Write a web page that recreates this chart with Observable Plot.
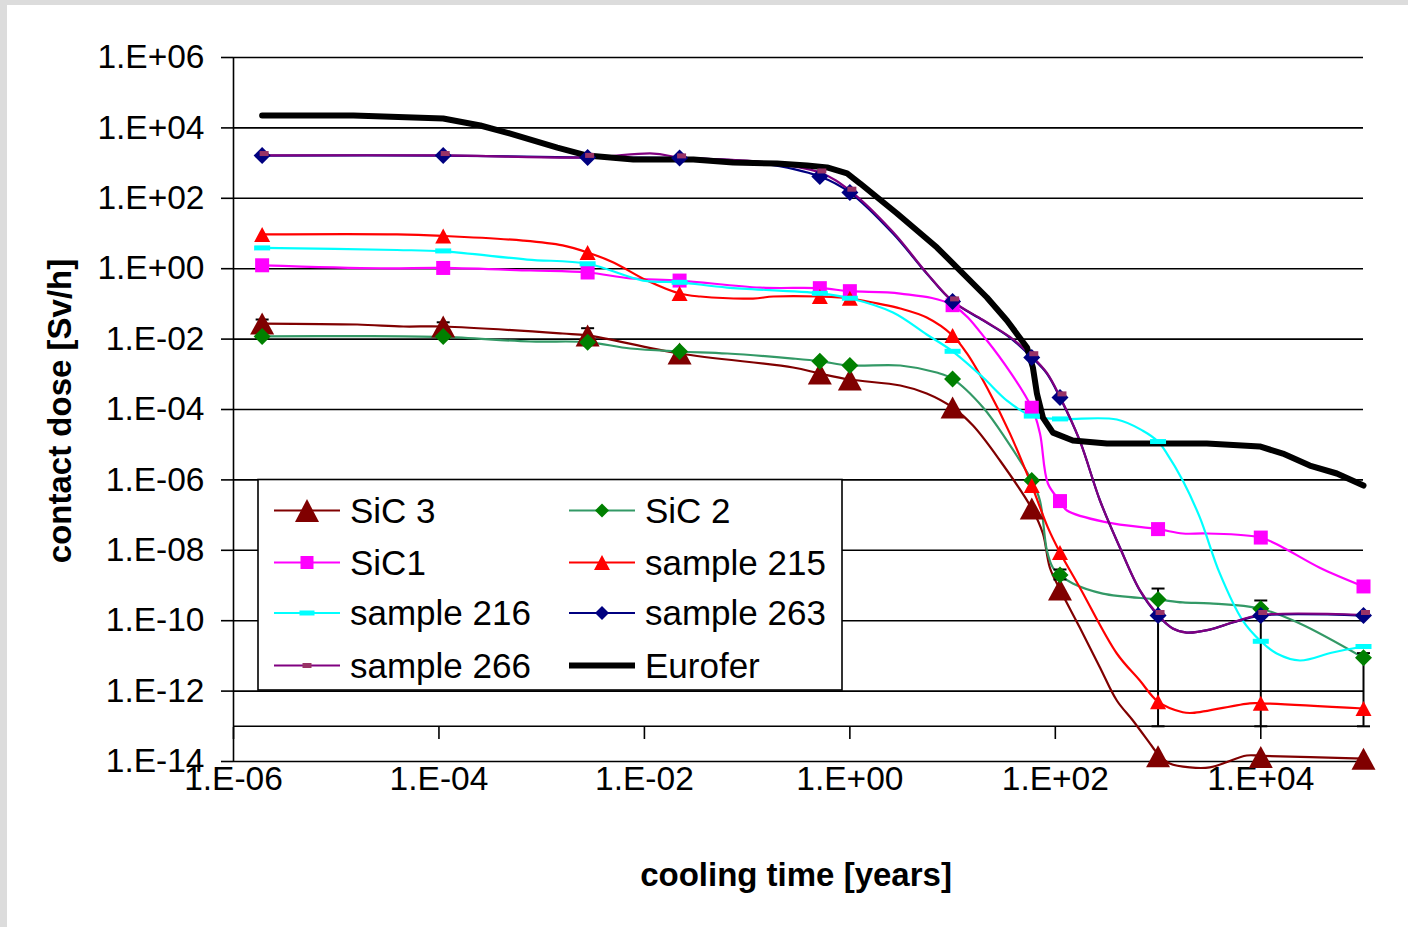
<!DOCTYPE html>
<html><head><meta charset="utf-8">
<script src="https://cdn.jsdelivr.net/npm/d3@7"></script>
<script src="https://cdn.jsdelivr.net/npm/@observablehq/plot@0.6"></script>
<style>
html,body{margin:0;padding:0;background:#dcdcdc;}
#wrap{position:relative;width:1408px;height:927px;overflow:hidden;}
#page{position:absolute;left:7px;top:5px;width:1401px;height:922px;background:#fff;}
#chart,#overlay{position:absolute;left:0;top:0;}
</style></head><body>
<div id="wrap"><div id="page"></div><div id="chart"></div><div id="overlay"></div></div>
<script>
// ---------- axis ticks ----------
const xTicks = [1e-6, 1e-4, 1e-2, 1e0, 1e2, 1e4];
const xTickLabels = ["1.E-06","1.E-04","1.E-02","1.E+00","1.E+02","1.E+04"];
const yTicks = [1e6,1e4,1e2,1e0,1e-2,1e-4,1e-6,1e-8,1e-10,1e-12,1e-14];
const yTickLabels = ["1.E+06","1.E+04","1.E+02","1.E+00","1.E-02","1.E-04","1.E-06","1.E-08","1.E-10","1.E-12","1.E-14"];
const xAxisCross = 1e-13;
const xTitle = "cooling time [years]";
const yTitle = "contact dose [Sv/h]";

// ---------- series (cooling time [y], dose [Sv/h]) ----------
const sic3Line = [[1.9e-6,0.0277],[1.6e-5,0.026],[4.5e-5,0.0228],[1.1e-4,0.0228],[1.6e-3,0.0144],[2.8e-3,0.0127],[0.022,3.9e-3],[0.28,1.56e-3],[0.51,1.05e-3],[1.0,7.1e-4],[3.1,4.8e-4],[5.6,2.85e-4],[10,1.14e-4],[15.8,3.5e-5],[28.9,3.56e-6],[59,1.54e-7],[75.7,3.0e-8],[88.5,3.2e-9],[111,7.7e-10],[173,6.4e-11],[272,4.7e-12],[397,5.4e-13],[569,1.46e-13],[890,2.5e-14],[1000,1.6e-14],[1300,8.8e-15],[2040,6.8e-15],[3190,6.8e-15],[7310,1.48e-14],[1e4,1.45e-14],[1e5,1.2e-14]];
const sic3Pts = [[1.9e-6,0.0277],[1.1e-4,0.0228],[2.8e-3,0.0127],[0.022,3.9e-3],[0.51,1.05e-3],[1.0,7.1e-4],[10,1.14e-4],[59,1.54e-7],[111,7.7e-10],[1000,1.4e-14],[1e4,1.35e-14],[1e5,1.2e-14]];

const sic2Line = [[1.9e-6,0.0119],[1.6e-5,0.0122],[1.1e-4,0.0115],[7.7e-4,8.55e-3],[2.8e-3,8.2e-3],[7.3e-3,5.4e-3],[0.022,4.45e-3],[0.064,3.9e-3],[0.28,2.8e-3],[0.51,2.36e-3],[1.0,1.78e-3],[3.1,1.78e-3],[7.0,1.12e-3],[10,7.4e-4],[19.8,1.14e-4],[33.8,1.3e-5],[59,9.6e-7],[70.8,2.6e-7],[82.8,9.9e-9],[94.8,3.2e-9],[111,2.0e-9],[148,1.14e-9],[290,5.9e-10],[1000,4.0e-10],[1740,3.3e-10],[3190,3.1e-10],[1e4,2.18e-10],[2.4e4,8.3e-11],[1e5,8.8e-12]];
const sic2Pts = [[1.9e-6,0.0119],[1.1e-4,0.0118],[2.8e-3,8.2e-3],[0.022,4.45e-3],[0.51,2.36e-3],[1.0,1.78e-3],[10,7.4e-4],[59,9.6e-7],[111,2.0e-9],[1000,4.0e-10],[1e4,2.18e-10],[1e5,8.8e-12]];

const sic1Line = [[1.9e-6,1.25],[2.7e-5,1.03],[1.1e-4,1.05],[7.7e-4,0.89],[2.8e-3,0.78],[7.3e-3,0.53],[0.022,0.46],[0.134,0.29],[0.51,0.28],[1.0,0.23],[3.1,0.197],[10,0.092],[21.6,9.1e-3],[59,1.12e-4],[70.8,2.1e-5],[84.7,7.9e-7],[111,2.5e-7],[130,1.35e-7],[318,6.2e-8],[1000,4.0e-8],[1740,3.0e-8],[2990,3.0e-8],[1e4,2.3e-8],[1.64e4,1.2e-8],[3.75e4,3.2e-9],[1e5,9.4e-10]];
const sic1Pts = [[1.9e-6,1.25],[1.1e-4,1.05],[2.8e-3,0.78],[0.022,0.46],[0.51,0.28],[1.0,0.23],[10,0.092],[59,1.12e-4],[111,2.5e-7],[1000,4.0e-8],[1e4,2.3e-8],[1e5,9.4e-10]];

const s215Line = [[1.9e-6,9.4],[3.9e-5,9.4],[1.1e-4,8.5],[6.6e-4,6.3],[1.6e-3,4.6],[2.8e-3,2.9],[5.0e-3,1.5],[0.0106,0.46],[0.022,0.197],[0.035,0.162],[0.114,0.142],[0.18,0.162],[0.51,0.162],[1.0,0.145],[1.84,0.103],[3.1,0.074],[5.6,0.041],[10,0.0127],[13.8,3.9e-3],[21.6,4.2e-4],[36.1,2.1e-5],[59,6.9e-7],[84.7,4.4e-8],[111,8.7e-9],[173,8.8e-10],[397,1.17e-11],[665,2.0e-12],[1000,5.0e-13],[1740,2.5e-13],[2180,2.4e-13],[7800,4.5e-13],[1e4,4.5e-13],[1e5,3.2e-13]];
const s215Pts = [[1.9e-6,9.4],[1.1e-4,8.5],[2.8e-3,2.9],[0.022,0.197],[0.51,0.162],[1.0,0.145],[10,0.0127],[59,6.9e-7],[111,8.7e-9],[1000,5.0e-13],[1e4,4.5e-13],[1e5,3.2e-13]];

const s216Line = [[1.9e-6,3.9],[3.9e-5,3.4],[1.1e-4,3.1],[7.2e-4,1.82],[2.8e-3,1.38],[9.7e-3,0.46],[0.022,0.41],[0.064,0.29],[0.51,0.20],[1.0,0.145],[2.63,0.057],[5.6,0.0135],[10,4.5e-3],[19.8,8.1e-4],[33.8,1.8e-4],[59,6.5e-5],[111,5.4e-5],[397,5.2e-5],[711,2.5e-5],[1000,1.23e-5],[1220,5.6e-6],[1740,9.6e-7],[2550,8.6e-8],[3990,2.2e-9],[6680,1.0e-10],[1e4,2.6e-11],[1.43e4,1.17e-11],[2.4e4,7.4e-12],[5.0e4,1.25e-11],[1e5,1.85e-11]];
const s216Pts = [[1.9e-6,3.9],[1.1e-4,3.2],[2.8e-3,1.38],[0.022,0.41],[0.51,0.20],[1.0,0.145],[10,4.5e-3],[59,6.5e-5],[111,5.4e-5],[1000,1.23e-5],[1e4,2.6e-11],[1e5,1.85e-11]];

const s263Line = [[1.9e-6,1640],[1.1e-4,1640],[2.8e-3,1440],[0.022,1400],[0.134,1000],[0.51,416],[1.0,146],[2.63,10],[5.6,0.73],[10,0.117],[19.8,0.034],[36.1,0.0111],[59,3.0e-3],[82.8,1.05e-3],[111,2.19e-4],[173,1.3e-5],[272,2.6e-7],[425,1.2e-8],[665,7.2e-10],[1000,1.4e-10],[1390,6.0e-11],[1900,4.6e-11],[3190,5.6e-11],[5350,8.9e-11],[1e4,1.4e-10],[1e5,1.4e-10]];
const s263Pts = [[1.9e-6,1640],[1.1e-4,1640],[2.8e-3,1440],[0.022,1400],[0.51,416],[1.0,146],[10,0.117],[59,3.0e-3],[111,2.19e-4],[1000,1.4e-10],[1e4,1.4e-10],[1e5,1.4e-10]];

const s266Line = [[1.9e-6,1650],[1.1e-4,1650],[2.8e-3,1450],[0.0122,1870],[0.022,1450],[0.134,1080],[0.51,540],[1.0,165],[2.63,11],[5.6,0.75],[10,0.12],[19.8,0.035],[36.1,0.0115],[59,3.3e-3],[82.8,1.1e-3],[111,2.3e-4],[173,1.3e-5],[272,2.6e-7],[425,1.2e-8],[665,7.4e-10],[1000,1.45e-10],[1390,6.0e-11],[1900,4.6e-11],[3190,5.6e-11],[5350,9.0e-11],[1e4,1.45e-10],[1e5,1.45e-10]];
const s266Pts = [[1.9e-6,1750],[1.1e-4,1750],[2.8e-3,1550],[0.022,1500],[0.51,560],[1.0,170],[10,0.13],[59,3.6e-3],[111,2.6e-4],[1000,1.6e-10],[1e4,1.6e-10],[1e5,1.6e-10]];

const euroferLine = [[1.9e-6,2.25e4],[1.47e-5,2.25e4],[1.1e-4,1.85e4],[2.53e-4,1.17e4],[4.95e-4,6.9e3],[1.42e-3,2.77e3],[2.78e-3,1.64e3],[7.8e-3,1.26e3],[0.030,1.26e3],[0.073,1040],[0.196,975],[0.384,855],[0.60,750],[0.94,507],[1.26,263],[2.88,37],[7.05,4.0],[21.6,0.152],[33.8,0.0337],[53,5.8e-3],[60.5,1.56e-3],[66.2,2.85e-4],[75.7,5.9e-5],[94.8,2.2e-5],[148,1.32e-5],[318,1.08e-5],[2985,1.08e-5],[9770,8.9e-6],[1.64e4,5.6e-6],[3.0e4,2.56e-6],[5.5e4,1.52e-6],[1e5,6.9e-7]];

// error bars: [time, low, high]
const errBars = [[1.9e-6,0.0105,0.036],[1.1e-4,0.0105,0.030],[2.8e-3,0.008,0.0204],[111,1.48e-9,2.85e-9],[1000,xAxisCross,8.2e-10],[1e4,xAxisCross,3.75e-10],[1e5,xAxisCross,1.2e-11]];

const names = ["SiC 3","SiC 2","SiC1","sample 215","sample 216","sample 263","sample 266","Eurofer"];

// ---------- marker shapes ----------
function triSym(w,h){return {draw(c){c.moveTo(0,-h/2);c.lineTo(w/2,h/2);c.lineTo(-w/2,h/2);c.closePath();}};}
function diaSym(w,h){return {draw(c){c.moveTo(0,-h/2);c.lineTo(w/2,0);c.lineTo(0,h/2);c.lineTo(-w/2,0);c.closePath();}};}
function rectSym(w,h,ox=0,oy=0){return {draw(c){c.moveTo(ox-w/2,oy-h/2);c.lineTo(ox+w/2,oy-h/2);c.lineTo(ox+w/2,oy+h/2);c.lineTo(ox-w/2,oy+h/2);c.closePath();}};}
function capSym(w){return {draw(c){c.moveTo(-w/2,0);c.lineTo(w/2,0);}};}

const styles = [
  {name:names[0], line:sic3Line, pts:sic3Pts, stroke:"#800000", mfill:"#800000", sym:triSym(24,22), lsym:triSym(24,23)},
  {name:names[1], line:sic2Line, pts:sic2Pts, stroke:"#339966", mfill:"#008000", sym:diaSym(17,17), lsym:diaSym(14,14)},
  {name:names[2], line:sic1Line, pts:sic1Pts, stroke:"#FF00FF", mfill:"#FF00FF", sym:rectSym(14,14), lsym:rectSym(13,13)},
  {name:names[3], line:s215Line, pts:s215Pts, stroke:"#FF0000", mfill:"#FF0000", sym:triSym(16,15), lsym:triSym(16,15)},
  {name:names[4], line:s216Line, pts:s216Pts, stroke:"#00FFFF", mfill:"#00FFFF", sym:rectSym(16,5), lsym:rectSym(15,5)},
  {name:names[5], line:s263Line, pts:s263Pts, stroke:"#000080", mfill:"#000080", sym:diaSym(17,17), lsym:diaSym(14,14)},
  {name:names[6], line:s266Line, pts:s266Pts, stroke:"#800080", mfill:"#993366", sym:rectSym(9,5,2,-1), lsym:rectSym(9,5)},
  {name:names[7], line:euroferLine, pts:[], stroke:"#000000", mfill:null, sym:null, lsym:null, width:6}
];

const X = d => d[0], Y = d => d[1];
const marks = [
  Plot.ruleY(yTicks, {stroke:"black", strokeWidth:1.6}),
  Plot.ruleY([xAxisCross], {stroke:"black", strokeWidth:1.6}),
  Plot.ruleX([1e-6], {stroke:"black", strokeWidth:1.6}),
  Plot.axisY(yTicks, {tickSize:12, tickPadding:17, strokeWidth:1.6, fontSize:33.5, label:null,
    tickFormat: d => yTickLabels[yTicks.indexOf(d)]}),
  Plot.axisX(xTicks, {tickSize:12, dy:-34, strokeWidth:1.6, label:null, tickFormat: () => ""}),
  Plot.axisX(xTicks, {tickSize:0, tickPadding:5, fontSize:33.5, label:null,
    tickFormat: d => xTickLabels[xTicks.indexOf(d)]})
];
for (const s of styles) {
  marks.push(Plot.line(s.line, {x:X, y:Y, stroke:s.stroke, strokeWidth:s.width || 2.2,
    curve: s.width ? "linear" : "catmull-rom", strokeLinejoin:"round"}));
}
marks.push(Plot.ruleX(errBars, {x:X, y1:d=>d[1], y2:d=>d[2], stroke:"black", strokeWidth:2}));
marks.push(Plot.dot(errBars, {x:X, y:d=>d[1], symbol:capSym(13), fill:"none", stroke:"black", strokeWidth:2}));
marks.push(Plot.dot(errBars, {x:X, y:d=>d[2], symbol:capSym(13), fill:"none", stroke:"black", strokeWidth:2}));
for (const s of styles) {
  if (!s.sym) continue;
  marks.push(Plot.dot(s.pts, {x:X, y:Y, symbol:s.sym, fill:s.mfill, stroke:"none", r:6}));
}

const chart = Plot.plot({
  width:1408, height:927,
  marginLeft:233, marginRight:45, marginTop:57, marginBottom:166,
  style:{background:"transparent", fontFamily:"'Liberation Sans', Arial, sans-serif", fontSize:"33px", color:"black"},
  x:{type:"log", domain:[1e-6,1e5]},
  y:{type:"log", domain:[1e-14,1e6]},
  marks
});
document.getElementById("chart").appendChild(chart);

// ---------- overlay: axis titles and legend ----------
const svg = d3.select("#overlay").append("svg").attr("width",1408).attr("height",927)
  .style("font-family","'Liberation Sans', Arial, sans-serif");
svg.append("text").attr("x",796).attr("y",886).attr("text-anchor","middle")
  .attr("font-size",33).attr("font-weight","bold").text(xTitle);
svg.append("text").attr("transform","translate(71,411) rotate(-90)").attr("text-anchor","middle")
  .attr("font-size",33).attr("font-weight","bold").text(yTitle);

const lg = svg.append("g");
lg.append("rect").attr("x",258).attr("y",479.5).attr("width",584).attr("height",210.5)
  .attr("fill","white").attr("stroke","black").attr("stroke-width",1.6);
const rowsY = [510.5, 562.5, 613, 665.5];
const cols = [{x1:274,x2:340,tx:350},{x1:569,x2:635,tx:645}];
styles.forEach((s,i) => {
  const r = Math.floor(i/2), c = cols[i%2], y = rowsY[r];
  lg.append("line").attr("x1",c.x1).attr("x2",c.x2).attr("y1",y).attr("y2",y)
    .attr("stroke",s.stroke).attr("stroke-width",s.width || 2.2);
  if (s.lsym) {
    const p = d3.path(); s.lsym.draw(p);
    lg.append("path").attr("d",p.toString()).attr("transform",`translate(${(c.x1+c.x2)/2},${y})`)
      .attr("fill",s.mfill);
  }
  lg.append("text").attr("x",c.tx).attr("y",y+12).attr("font-size",35).text(s.name);
});
</script>
</body></html>
